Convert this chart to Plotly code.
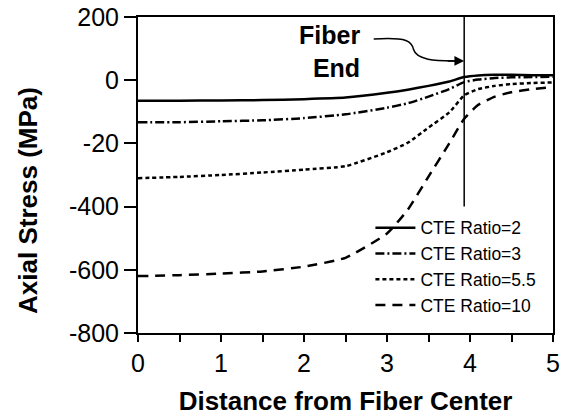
import plotly.graph_objects as go

# Data
distance = [0, 0.5, 1, 1.5, 2, 2.5, 3, 3.25, 3.5, 3.75, 3.93, 4.1, 4.3, 4.5, 4.75, 5]
cte_2 = [-65, -65, -64, -63, -60, -55, -40, -30, -18, -4, 10, 15, 17, 17, 16, 16]
cte_3 = [-133, -133, -130, -127, -120, -108, -87, -73, -52, -28, -6, 2, 7, 9, 10, 11]
cte_5_5 = [-310, -306, -300, -292, -283, -272, -228, -198, -150, -102, -48, -28, -18, -12, -9, -7]
cte_10 = [-620, -617, -612, -605, -590, -562, -485, -410, -305, -200, -122, -78, -52, -38, -28, -22]

series_names = ["CTE Ratio=2", "CTE Ratio=3", "CTE Ratio=5.5", "CTE Ratio=10"]
series_values = [cte_2, cte_3, cte_5_5, cte_10]
series_dash = ["solid", "9px,3px,2px,3px", "4px,3px", "10px,7px"]

y_tick_vals = [200, 0, -200, -400, -600, -800]
y_tick_text = ["200", "0", "-20", "-400", "-600", "-800"]
x_tick_vals = [0, 1, 2, 3, 4, 5]
x_tick_text = ["0", "1", "2", "3", "4", "5"]

fiber_end_x = 3.93

FONT = "Liberation Sans, Arial, sans-serif"

fig = go.Figure()
for name, vals, dash in zip(series_names, series_values, series_dash):
    fig.add_trace(go.Scatter(
        x=distance, y=vals, mode="lines", name=name,
        line=dict(color="black", width=2.5, dash=dash, shape="spline", smoothing=0.5),
    ))

# Fiber end vertical line
fig.add_shape(type="line", x0=fiber_end_x, x1=fiber_end_x, y0=200, y1=-400,
              xref="x", yref="y", line=dict(color="black", width=1.5))

# curved arrow from label to fiber end
fig.add_shape(type="path",
              path="M 2.84 130 C 3.25 137, 3.30 122, 3.32 97 C 3.36 62, 3.6 62, 3.82 61",
              xref="x", yref="y", line=dict(color="black", width=1.5))
fig.add_annotation(x=fiber_end_x, y=61, ax=-18, ay=0, xref="x", yref="y",
                   axref="pixel", ayref="pixel", text="", showarrow=True,
                   arrowhead=2, arrowsize=1.3, arrowwidth=1.5, arrowcolor="black")
fig.add_annotation(x=2.7, y=92, xref="x", yref="y", xanchor="right", yanchor="middle",
                   text="<b>Fiber<br>End</b>",
                   showarrow=False, font=dict(family=FONT, size=25, color="black"),
                   align="right")

# y-axis title (placed as annotation to match the reference's offset)
fig.add_annotation(x=-0.265, y=0.418, xref="paper", yref="paper", xanchor="center", yanchor="middle",
                   text="<b>Axial Stress (MPa)</b>", textangle=-90, showarrow=False,
                   font=dict(family=FONT, size=26, color="black"))

fig.update_layout(
    width=573, height=416,
    margin=dict(l=138, r=20, t=17, b=83),
    paper_bgcolor="white", plot_bgcolor="white",
    font=dict(family=FONT, color="black"),
    legend=dict(x=0.56, y=0.39, xanchor="left", yanchor="top",
                font=dict(family=FONT, size=17.5, color="black"),
                bgcolor="rgba(0,0,0,0)", tracegroupgap=0, itemwidth=40),
    xaxis=dict(range=[0, 5], tickvals=x_tick_vals, ticktext=x_tick_text, automargin=False,
               showgrid=False, zeroline=False, showline=True, linecolor="black",
               linewidth=2, mirror=True, ticks="outside", ticklen=7, tickwidth=1.5,
               tickcolor="black", tickfont=dict(size=25, family=FONT),
               minor=dict(dtick=0.5, ticks="outside", ticklen=7, tickwidth=1.5, tickcolor="black"),
               title=dict(text="<b>Distance from Fiber Center</b>", font=dict(size=26, family=FONT), standoff=22)),
    yaxis=dict(range=[-800, 200], tickvals=y_tick_vals, ticktext=y_tick_text, automargin=False,
               showgrid=False, zeroline=False, showline=True, linecolor="black",
               linewidth=2, mirror=True, ticks="outside", ticklen=12, tickwidth=1.5,
               tickcolor="black", tickfont=dict(size=25, family=FONT)),
)

fig.write_html("out.html")
